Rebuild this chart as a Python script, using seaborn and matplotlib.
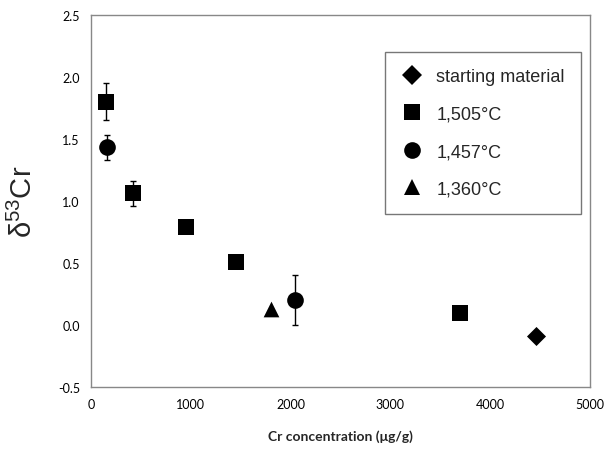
import matplotlib
matplotlib.use("Agg")
import matplotlib.pyplot as plt
from matplotlib.lines import Line2D
import numpy as np
import pandas as pd
import seaborn as sns

""" Data read off the reference """
groups = ["starting material", "1,505°C", "1,457°C", "1,360°C"]
cr_conc = {
    "starting material": [4460],
    "1,505°C": [150, 420, 950, 1450, 3700],
    "1,457°C": [165, 2045],
    "1,360°C": [1805],
}
delta53 = {
    "starting material": [-0.09],
    "1,505°C": [1.80, 1.06, 0.79, 0.51, 0.10],
    "1,457°C": [1.43, 0.20],
    "1,360°C": [0.13],
}
delta_err = {
    "starting material": [0.0],
    "1,505°C": [0.15, 0.10, 0.0, 0.0, 0.0],
    "1,457°C": [0.10, 0.20],
    "1,360°C": [0.0],
}
x_ticks = [0, 1000, 2000, 3000, 4000, 5000]
y_ticks = [-0.5, 0.0, 0.5, 1.0, 1.5, 2.0, 2.5]

""" Style settings """
markers = {"starting material": "D", "1,505°C": "s", "1,457°C": "o", "1,360°C": "^"}
marker_pts = {"starting material": 9.7, "1,505°C": 12, "1,457°C": 12, "1,360°C": 11.3}
spine_gray = "#888888"

sns.set_style("white")
plt.rcParams["mathtext.default"] = "regular"

rows = []
for g in groups:
    for x, y, e in zip(cr_conc[g], delta53[g], delta_err[g]):
        rows.append({"conc": x, "d53": y, "err": e, "group": g})
df = pd.DataFrame(rows)

fig = plt.figure(figsize=(6.11, 4.52), dpi=100)
ax = fig.add_axes([91 / 611, 1 - 388 / 452, 499 / 611, 372.3 / 452])

# error bars first, markers on top
with_err = df[df["err"] > 0]
ax.errorbar(
    with_err["conc"], with_err["d53"], yerr=with_err["err"], fmt="none",
    ecolor="black", elinewidth=1.0, capsize=2.5, capthick=1.0, zorder=2,
)

for g in groups:
    sns.scatterplot(
        data=df[df["group"] == g], x="conc", y="d53", marker=markers[g],
        s=marker_pts[g] ** 2, color="black", edgecolor="black", linewidth=0,
        legend=False, ax=ax, zorder=3,
    )

ax.set(xlim=(0, 5000), ylim=(-0.5, 2.5), xticks=x_ticks, yticks=y_ticks)
ax.set_yticklabels([f"{v:.1f}" for v in y_ticks])
ax.set_xticklabels([str(v) for v in x_ticks])
for side in ["left", "right", "top", "bottom"]:
    ax.spines[side].set_color(spine_gray)
    ax.spines[side].set_linewidth(1.0)
ax.tick_params(axis="both", direction="out", length=4, width=1.0, color=spine_gray,
               labelsize=9, labelcolor="black", pad=4)
for lbl in ax.get_xticklabels() + ax.get_yticklabels():
    lbl.set_family("Lato")

ax.set_xlabel("Cr concentration (μg/g)", fontsize=10, fontweight="bold",
              family="Lato", labelpad=14)
ax.set_ylabel(r"δ$^{53}$Cr", fontsize=21, family="Liberation Sans", labelpad=14)

handles = [
    Line2D([], [], linestyle="none", marker=markers[g], color="black",
           markersize=marker_pts[g], markeredgewidth=0)
    for g in groups
]
leg = ax.legend(
    handles, groups, loc="upper left", bbox_to_anchor=(385 / 611, 1 - 53 / 452),
    bbox_transform=fig.transFigure, borderaxespad=0,
    prop={"family": "Liberation Sans", "size": 13}, frameon=True, fancybox=False,
    borderpad=0.9, labelspacing=1.13, handlelength=1.19, handletextpad=0.75,
)
leg.get_frame().set_edgecolor("#555555")
leg.get_frame().set_linewidth(1.0)

fig.savefig("out.png", dpi=100)
